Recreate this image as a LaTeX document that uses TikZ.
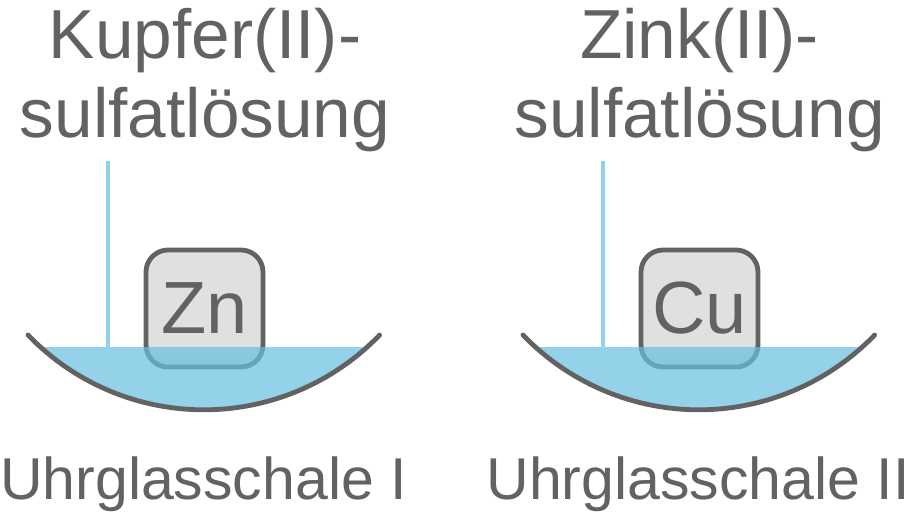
\documentclass[tikz,border=0pt]{standalone}
\usepackage{fontspec}
\setmainfont{Liberation Sans}
\definecolor{ink}{HTML}{626262}
\definecolor{metalgrey}{HTML}{E0E0E0}
\definecolor{water}{RGB}{103,191,224}
\definecolor{wick}{HTML}{93D2E9}
\tikzset{
  metalbox/.style={draw=ink, line width=2.4pt, fill=metalgrey, rounded corners=11pt, minimum size=58.5pt, inner sep=0pt, text=ink, font=\fontsize{37}{37}\selectfont},
  solution/.style={align=center, text=ink, font=\fontsize{34.7}{39.5}\selectfont},
  dishlabel/.style={text=ink, font=\fontsize{29.5}{29.5}\selectfont},
  dish/.style={draw=ink, line width=2.4pt, line cap=round},
  wickline/.style={draw=wick, line width=2pt}
}
\begin{document}
\begin{tikzpicture}[x=.5pt, y=.5pt]
  \useasboundingbox (0,0) rectangle (910,515);

  \node[solution] (solI) at (205,435) {Kupfer(II)-\\sulfatlösung};
  \node[dishlabel] (dishI) at (203.5,31) {Uhrglasschale I};
  \coordinate (topI) at (108,354);
  \coordinate (baseI) at (108,168);
  \draw[wickline] (topI) -- (baseI);
  \node[metalbox] (zn) at (204.5,206.5) {Zn};
  \begin{scope}
    \clip (0,0) rectangle (910,168);
    \fill[water, opacity=.71] (204,349) circle (244);
  \end{scope}
  \draw[dish] (28,180) arc (223.9:316.1:244);

  \node[solution] (solII) at (699.5,435) {Zink(II)-\\sulfatlösung};
  \node[dishlabel] (dishII) at (698,31) {Uhrglasschale II};
  \coordinate (topII) at (603,354);
  \coordinate (baseII) at (603,168);
  \draw[wickline] (topII) -- (baseII);
  \node[metalbox] (cu) at (699.5,206.5) {Cu};
  \begin{scope}
    \clip (0,0) rectangle (910,168);
    \fill[water, opacity=.71] (699,349) circle (244);
  \end{scope}
  \draw[dish] (523,180) arc (223.9:316.1:244);
\end{tikzpicture}
\end{document}
